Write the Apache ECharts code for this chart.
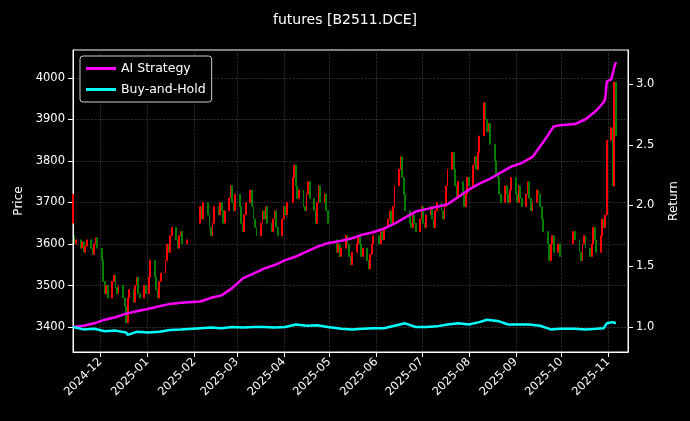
<!DOCTYPE html>
<html><head><meta charset="utf-8">
<script src="https://cdn.jsdelivr.net/npm/echarts@6/dist/echarts.min.js"></script>
<style>html,body{margin:0;background:#000}#c{width:690px;height:421px}</style>
</head><body><div id="c"></div>
<script>
const START_DATE='2024-11-13', END_DATE='2025-11-06';
const HOLIDAYS=['2025-01-01','2025-01-28','2025-01-29','2025-01-30','2025-01-31','2025-02-03','2025-02-04','2025-04-04','2025-05-01','2025-05-02','2025-05-05','2025-06-02','2025-10-01','2025-10-02','2025-10-03','2025-10-06','2025-10-07','2025-10-08'];
const OHLC_OC=[
[3650,3720],[3620,3600],[3600,3610],
[3610,3590],[3590,3605],[3605,3580],[3580,3595],[3595,3610],
[3610,3590],[3590,3575],[3575,3600],[3600,3615],[3615,3590],
[3590,3560],[3560,3510],[3510,3480],[3480,3500],[3500,3470],
[3470,3510],[3510,3525],[3525,3495],[3495,3480],[3480,3500],
[3500,3470],[3470,3450],[3450,3410],[3410,3470],[3470,3490],
[3490,3460],[3460,3500],[3500,3520],[3520,3480],[3480,3470],
[3470,3500],[3500,3480],[3480,3520],[3520,3560],
[3560,3520],[3520,3490],[3490,3470],[3470,3510],[3510,3530],
[3530,3560],[3560,3600],[3600,3580],[3580,3620],[3620,3640],
[3640,3610],[3610,3590],[3590,3620],[3620,3630],[3630,3600],
[3600,3610],
[3650,3690],[3690,3660],[3660,3700],
[3700,3670],[3670,3640],[3640,3620],[3620,3650],[3650,3690],
[3690,3670],[3670,3700],[3700,3680],[3680,3650],[3650,3680],
[3680,3710],[3710,3740],[3740,3700],[3700,3680],[3680,3720],
[3720,3690],[3690,3650],[3650,3630],[3630,3670],[3670,3700],
[3700,3730],[3730,3690],[3690,3660],[3660,3640],[3640,3620],
[3620,3650],[3650,3680],[3680,3660],[3660,3690],[3690,3650],
[3650,3630],[3630,3660],[3660,3680],[3680,3640],[3640,3620],
[3620,3660],[3660,3690],[3690,3670],[3670,3700],
[3700,3760],[3760,3790],[3790,3740],[3740,3710],[3710,3730],
[3730,3690],[3690,3680],[3680,3720],[3720,3750],[3750,3710],
[3710,3680],[3680,3650],[3650,3700],[3700,3740],[3740,3700],
[3700,3720],[3720,3680],[3680,3650],
[3610,3580],[3580,3600],[3600,3570],[3570,3590],
[3590,3620],[3620,3600],[3600,3570],[3570,3550],[3550,3580],
[3580,3600],[3600,3620],[3620,3600],[3600,3570],[3570,3590],
[3590,3560],[3560,3540],[3540,3575],[3575,3600],[3600,3620],
[3620,3600],[3600,3630],[3630,3610],[3610,3640],
[3640,3660],[3660,3680],[3680,3650],[3650,3690],[3690,3740],
[3740,3780],[3780,3810],[3810,3760],[3760,3720],[3720,3680],
[3680,3650],[3650,3640],[3640,3670],[3670,3650],[3650,3630],
[3630,3660],[3660,3690],[3690,3650],[3650,3640],[3640,3670],
[3670,3690],[3690,3660],[3660,3640],[3640,3680],[3680,3700],
[3700,3680],[3680,3660],[3660,3690],[3690,3740],[3740,3780],
[3780,3820],[3820,3780],[3780,3740],[3740,3710],[3710,3750],
[3750,3720],[3720,3690],[3690,3720],[3720,3760],[3760,3740],
[3740,3790],[3790,3810],[3810,3780],[3780,3820],[3820,3860],
[3860,3940],[3940,3900],[3900,3870],[3870,3890],[3890,3840],
[3840,3800],[3800,3770],[3770,3760],[3760,3720],[3720,3700],
[3700,3740],[3740,3720],[3720,3700],[3700,3730],[3730,3760],
[3760,3720],[3720,3700],[3700,3740],[3740,3710],[3710,3690],
[3690,3720],[3720,3750],[3750,3710],[3710,3680],[3680,3700],
[3700,3730],[3730,3720],[3720,3690],[3690,3660],[3660,3630],
[3630,3600],[3600,3560],[3560,3600],[3600,3620],[3620,3580],
[3580,3600],[3600,3570],
[3600,3630],[3630,3610],
[3610,3580],[3580,3560],[3560,3600],[3600,3620],[3620,3590],
[3590,3570],[3570,3600],[3600,3640],[3640,3610],[3610,3580],
[3580,3620],[3620,3660],[3660,3640],[3640,3670],[3670,3850],
[3850,3880],[3880,3740],[3740,3990],[3990,3860]
];
const STRAT_DATES=['2024-11-13','2024-11-20','2024-11-27','2024-12-04','2024-12-11','2024-12-18','2024-12-25','2025-01-02','2025-01-09','2025-01-16','2025-01-23','2025-02-05','2025-02-12','2025-02-19','2025-02-26','2025-03-05','2025-03-12','2025-03-19','2025-03-26','2025-04-02','2025-04-09','2025-04-16','2025-04-23','2025-04-30','2025-05-09','2025-05-16','2025-05-23','2025-05-30','2025-06-06','2025-06-13','2025-06-20','2025-06-27','2025-07-04','2025-07-11','2025-07-18','2025-07-25','2025-08-01','2025-08-08','2025-08-15','2025-08-22','2025-08-29','2025-09-05','2025-09-12','2025-09-19','2025-09-26','2025-09-30','2025-10-10','2025-10-17','2025-10-24','2025-10-29','2025-10-30','2025-10-31','2025-11-03','2025-11-05','2025-11-06'];
const STRAT_VALUES=[1.00,1.01,1.03,1.06,1.08,1.11,1.13,1.15,1.17,1.19,1.20,1.21,1.24,1.26,1.32,1.40,1.44,1.48,1.51,1.55,1.58,1.62,1.66,1.69,1.71,1.73,1.76,1.78,1.81,1.85,1.90,1.95,1.97,1.99,2.01,2.07,2.13,2.18,2.22,2.27,2.32,2.35,2.40,2.52,2.65,2.66,2.67,2.71,2.78,2.85,2.88,3.02,3.04,3.14,3.18];
const BH_DATES=['2024-11-13','2024-11-20','2024-11-27','2024-12-04','2024-12-11','2024-12-18','2024-12-19','2024-12-25','2025-01-02','2025-01-09','2025-01-16','2025-01-23','2025-02-05','2025-02-12','2025-02-19','2025-02-26','2025-03-05','2025-03-12','2025-03-19','2025-03-26','2025-04-02','2025-04-09','2025-04-16','2025-04-23','2025-04-30','2025-05-09','2025-05-16','2025-05-23','2025-05-30','2025-06-06','2025-06-13','2025-06-20','2025-06-27','2025-07-04','2025-07-11','2025-07-18','2025-07-25','2025-08-01','2025-08-08','2025-08-13','2025-08-20','2025-08-27','2025-09-03','2025-09-10','2025-09-17','2025-09-24','2025-09-30','2025-10-10','2025-10-17','2025-10-24','2025-10-29','2025-10-31','2025-11-04','2025-11-06'];
const BH_VALUES=[1.00,0.98,0.985,0.965,0.97,0.955,0.935,0.96,0.955,0.96,0.975,0.98,0.99,0.995,0.99,1.0,0.995,1.0,1.0,0.995,1.0,1.02,1.01,1.015,1.0,0.985,0.98,0.985,0.99,0.99,1.01,1.03,1.0,1.0,1.005,1.02,1.03,1.02,1.04,1.06,1.05,1.02,1.02,1.02,1.01,0.98,0.985,0.985,0.98,0.985,0.99,1.03,1.04,1.03];
const PRICE_TICKS=[3400,3500,3600,3700,3800,3900,4000];
const RETURN_TICKS=[1.0,1.5,2.0,2.5,3.0];

function fmt(d){return d.getUTCFullYear()+'-'+String(d.getUTCMonth()+1).padStart(2,'0')+'-'+String(d.getUTCDate()).padStart(2,'0');}
const days=[];
for(let d=new Date(START_DATE+'T00:00:00Z');d<=new Date(END_DATE+'T00:00:00Z');d.setUTCDate(d.getUTCDate()+1)){
  const w=d.getUTCDay(), s=fmt(d);
  if(w===0||w===6||HOLIDAYS.includes(s))continue; days.push(s);
}
const candles=OHLC_OC.slice(0,days.length).map((oc,i)=>[days[i],oc[0],oc[1],Math.min(oc[0],oc[1]),Math.max(oc[0],oc[1])]);
const ch=echarts.init(document.getElementById('c'));
const txt='#ffffff', font='DejaVu Sans';
ch.setOption({
  backgroundColor:'#000',animation:false,
  textStyle:{fontFamily:font},
  title:{text:'futures [B2511.DCE]',left:'center',top:8,textStyle:{color:txt,fontSize:14,fontWeight:'normal',fontFamily:font}},
  legend:{left:80,top:56,orient:'vertical',itemGap:8,itemWidth:30,itemHeight:3,icon:'rect',backgroundColor:'#000',borderColor:'#cccccc',borderWidth:1,borderRadius:3,padding:[6,6],
    textStyle:{color:txt,fontSize:12.5,fontFamily:font},data:['AI Strategy','Buy-and-Hold']},
  grid:{left:73,right:62,top:50,bottom:69,show:true,borderColor:'#ffffff',borderWidth:1},
  xAxis:{type:'time',min:'2024-11-13',max:'2025-11-14',minInterval:27*86400000,maxInterval:32*86400000,
    axisLine:{lineStyle:{color:txt}},axisTick:{lineStyle:{color:txt}},
    axisLabel:{color:txt,fontSize:11.5,rotate:45,formatter:v=>{const d=new Date(v);return d.getFullYear()+'-'+String(d.getMonth()+1).padStart(2,'0');},hideOverlap:false},
    splitLine:{show:true,lineStyle:{color:'#444',type:'dashed',width:0.6}}},
  yAxis:[
    {type:'value',min:3340,max:4067,name:'Price',nameLocation:'middle',nameGap:48,nameTextStyle:{color:txt,fontSize:12},
     axisLine:{show:true,lineStyle:{color:txt}},axisTick:{show:true,customValues:PRICE_TICKS,lineStyle:{color:txt}},
     axisLabel:{color:txt,fontSize:11.5,customValues:PRICE_TICKS,formatter:v=>String(v)},
     splitLine:{show:true,lineStyle:{color:'#444',type:'dashed',width:0.6}}},
    {type:'value',min:0.794,max:3.28,name:'Return',nameLocation:'middle',nameGap:40,nameRotate:90,nameTextStyle:{color:txt,fontSize:12},
     axisLine:{show:true,lineStyle:{color:txt}},axisTick:{show:true,customValues:RETURN_TICKS,lineStyle:{color:txt}},
     axisLabel:{color:txt,fontSize:11.5,customValues:RETURN_TICKS,formatter:v=>v.toFixed(1)},splitLine:{show:false}}
  ],
  series:[
    {type:'candlestick',data:candles,barWidth:1.4,
     itemStyle:{color:'#ff0000',color0:'#008000',borderColor:'#ff0000',borderColor0:'#008000',borderWidth:1}},
    {name:'AI Strategy',type:'line',yAxisIndex:1,symbol:'none',data:STRAT_DATES.map((d,i)=>[d,STRAT_VALUES[i]]),lineStyle:{color:'#ff00ff',width:2.5},itemStyle:{color:'#ff00ff'}},
    {name:'Buy-and-Hold',type:'line',yAxisIndex:1,symbol:'none',data:BH_DATES.map((d,i)=>[d,BH_VALUES[i]]),lineStyle:{color:'#00ffff',width:2.5},itemStyle:{color:'#00ffff'}}
  ]
});
</script></body></html>
